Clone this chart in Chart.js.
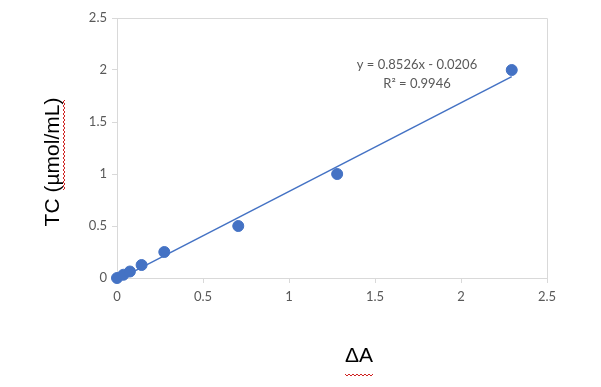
<!DOCTYPE html>
<html lang="en">
  <head>
    <meta charset="UTF-8">
    <title>TC standard curve</title>
    <script src="https://cdn.jsdelivr.net/npm/chart.js"></script>
    <style>
      html, body { margin: 0; padding: 0; background: #fff; }
      #wrap { width: 601px; height: 387px; }
    </style>
  </head>
  <body>
    <div id="wrap">
      <canvas id="myChart" width="601" height="387"></canvas>
    </div>

    <script>
      // data
      const deltaA = [0, 0.037, 0.075, 0.143, 0.275, 0.705, 1.28, 2.295];
      const tc = [0, 0.03125, 0.0625, 0.125, 0.25, 0.5, 1, 2];
      const xTicks = [0, 0.5, 1, 1.5, 2, 2.5];
      const yTicks = [0, 0.5, 1, 1.5, 2, 2.5];
      const slope = 0.8526;
      const intercept = -0.0206;
      const eqLines = ['y = 0.8526x - 0.0206', 'R\u00b2 = 0.9946'];

      const blue = '#4472c4';
      const axisGrey = '#d9d9d9';
      const labelGrey = '#595959';
      const tickFont = { family: 'Lato', size: 13 };

      const points = deltaA.map((x, i) => ({ x: x, y: tc[i] }));
      const xMin = Math.min(...deltaA);
      const xMax = Math.max(...deltaA);
      const trend = [xMin, xMax].map(x => ({ x: x, y: slope * x + intercept }));

      // box around plot + axis titles + trendline label
      const extras = {
        id: 'extras',
        afterDraw(chart) {
          const c = chart.ctx;
          const a = chart.chartArea;
          c.save();
          c.strokeStyle = axisGrey;
          c.lineWidth = 1;
          c.beginPath();
          c.moveTo(a.left, a.top + 0.5);
          c.lineTo(a.right + 0.5, a.top + 0.5);
          c.lineTo(a.right + 0.5, a.bottom);
          c.stroke();

          // equation label
          c.fillStyle = labelGrey;
          c.font = '13px Lato';
          c.textAlign = 'center';
          c.textBaseline = 'middle';
          c.fillText(eqLines[0], 417, 65);
          c.fillText(eqLines[1], 417, 84);

          // axis titles
          c.fillStyle = '#000';
          c.font = '21px "Liberation Sans"';
          c.fillText('\u0394A', 359, 356);
          c.translate(53, 162);
          c.rotate(-Math.PI / 2);
          c.fillText('TC (\u00b5mol/mL)', 0, 0);
          c.restore();

          // spell-check squiggles
          c.save();
          c.strokeStyle = '#d02020';
          c.lineWidth = 1;
          const squiggle = (x0, y0, len, vertical) => {
            c.beginPath();
            for (let t = 0; t <= len; t += 2) {
              const off = (t / 2) % 2 === 0 ? 0 : 2;
              if (vertical) c.lineTo(x0 + off, y0 - t); else c.lineTo(x0 + t, y0 + off);
            }
            c.stroke();
          };
          squiggle(345, 374, 28, false);
          squiggle(63, 190, 90, true);
          c.restore();
        }
      };

      new Chart(document.getElementById('myChart'), {
        type: 'scatter',
        data: {
          datasets: [
            {
              label: 'TC',
              data: points,
              backgroundColor: blue,
              borderColor: blue,
              pointRadius: 5.5,
              pointHoverRadius: 5.5,
              clip: false,
              order: 1
            },
            {
              type: 'line',
              label: 'Linear',
              data: trend,
              borderColor: blue,
              borderWidth: 1.5,
              pointRadius: 0,
              fill: false,
              clip: false,
              order: 2
            }
          ]
        },
        options: {
          responsive: false,
          animation: false,
          layout: { padding: { left: 0, top: 18, right: 54, bottom: 0 } },
          plugins: {
            legend: { display: false },
            tooltip: { enabled: false }
          },
          scales: {
            x: {
              type: 'linear',
              min: 0,
              max: 2.5,
              afterBuildTicks: s => { s.ticks = xTicks.map(v => ({ value: v })); },
              afterFit: s => { s.height = 109; },
              grid: { drawOnChartArea: false, drawTicks: true, tickLength: 5, color: axisGrey },
              border: { color: axisGrey },
              ticks: { color: labelGrey, font: tickFont, padding: 6, maxRotation: 0, callback: v => String(v) }
            },
            y: {
              type: 'linear',
              min: 0,
              max: 2.5,
              afterBuildTicks: s => { s.ticks = yTicks.map(v => ({ value: v })); },
              afterFit: s => { s.width = 117; },
              grid: { drawOnChartArea: false, drawTicks: true, tickLength: 5, color: axisGrey },
              border: { color: axisGrey },
              ticks: { color: labelGrey, font: tickFont, padding: 5, callback: v => String(v) }
            }
          }
        },
        plugins: [extras]
      });
    </script>
  </body>
</html>
